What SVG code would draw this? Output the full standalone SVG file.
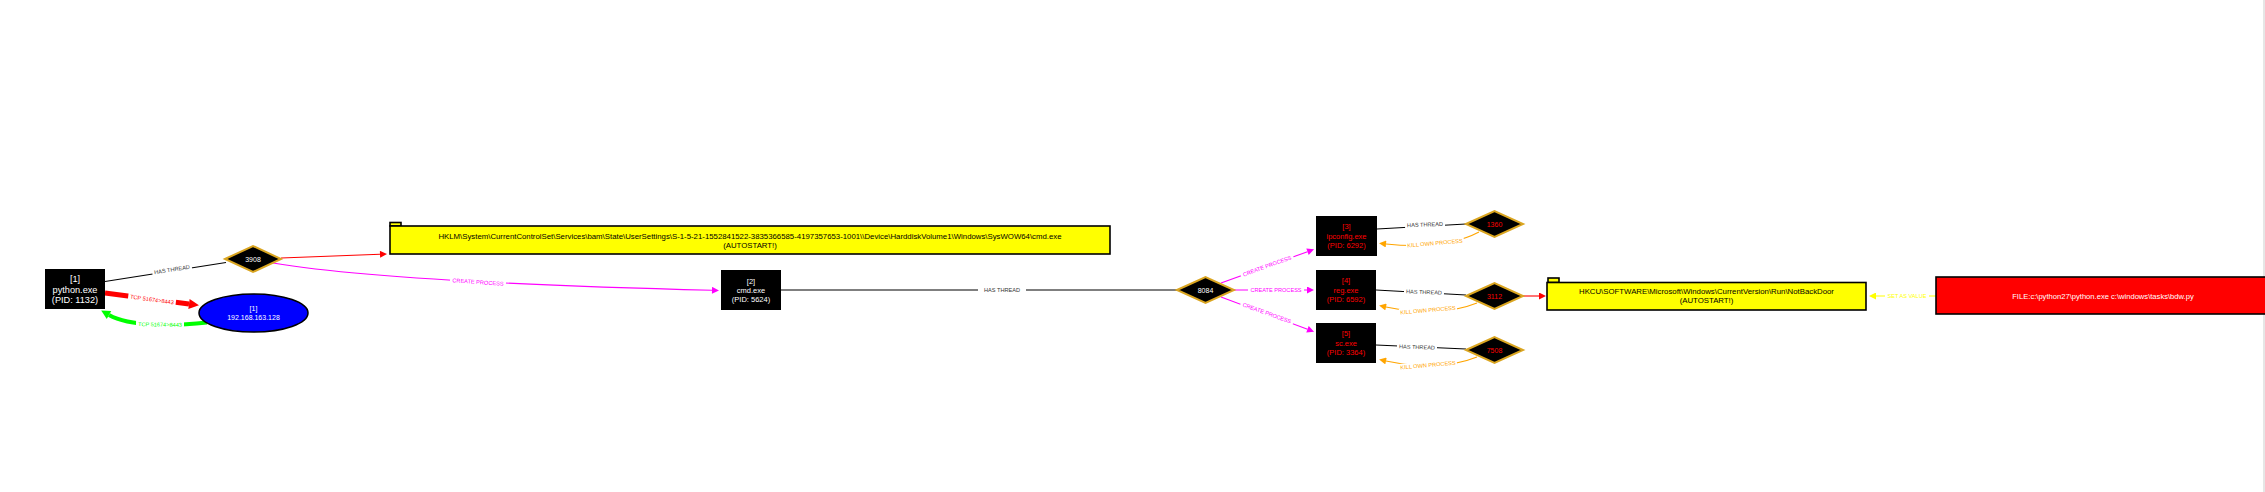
<svg xmlns="http://www.w3.org/2000/svg" width="2265" height="492" viewBox="0 0 2265 492">
<style>
text{font-family:"Liberation Sans",Arial,sans-serif;text-anchor:middle}
.proc{fill:#000}
.wt{fill:#fff;font-size:7.5px}
.rt{fill:#ff0000;font-size:7.5px}
.dia{fill:#000;stroke:#daa520;stroke-width:2}
.dt{fill:#fff;font-size:7px}
.drt{fill:#ff0000;font-size:7px}
.reg{fill:#ffff00;stroke:#000;stroke-width:1.6}
.regt{fill:#000;font-size:7.8px}
.el{font-size:5.6px}
.lb{fill:#fff}
.thr{fill:none;stroke:#000;stroke-width:1.1}
.cp{fill:none;stroke:#ff00ff;stroke-width:1.1}
.ko{fill:none;stroke:#ffa500;stroke-width:1.1}
.rd{fill:none;stroke:#ff0000;stroke-width:1.1}
</style>
<defs>
<marker id="aR" viewBox="0 0 10 10" refX="0" refY="5" markerUnits="userSpaceOnUse" markerWidth="8" markerHeight="7" orient="auto"><path d="M0,0L10,5L0,10z" fill="#ff0000"/></marker>
<marker id="aRb" viewBox="0 0 10 10" refX="0" refY="5" markerUnits="userSpaceOnUse" markerWidth="11" markerHeight="10" orient="auto"><path d="M0,0L10,5L0,10z" fill="#ff0000"/></marker>
<marker id="aG" viewBox="0 0 10 10" refX="0" refY="5" markerUnits="userSpaceOnUse" markerWidth="10" markerHeight="9" orient="auto"><path d="M0,0L10,5L0,10z" fill="#00ff00"/></marker>
<marker id="aM" viewBox="0 0 10 10" refX="0" refY="5" markerUnits="userSpaceOnUse" markerWidth="8" markerHeight="7" orient="auto"><path d="M0,0L10,5L0,10z" fill="#ff00ff"/></marker>
<marker id="aO" viewBox="0 0 10 10" refX="0" refY="5" markerUnits="userSpaceOnUse" markerWidth="8" markerHeight="7" orient="auto"><path d="M0,0L10,5L0,10z" fill="#ffa500"/></marker>
<marker id="aY" viewBox="0 0 10 10" refX="0" refY="5" markerUnits="userSpaceOnUse" markerWidth="8" markerHeight="7" orient="auto"><path d="M0,0L10,5L0,10z" fill="#ffff00"/></marker>
</defs>
<rect width="2265" height="492" fill="#fff"/>
<rect x="2263" y="0" width="2" height="492" fill="#e6e6e6"/>

<g id="connectors">
<path class="thr" d="M105,281.5 L226,262.5"/>
<path d="M105,293 L189,304" fill="none" stroke="#ff0000" stroke-width="5" marker-end="url(#aRb)"/>
<path d="M207,322.5 C175,326 130,327 109,315" fill="none" stroke="#00ff00" stroke-width="4" marker-end="url(#aG)"/>
<path class="rd" d="M281,258 L380,254.3" marker-end="url(#aR)"/>
<path class="cp" d="M273,263 C350,276 500,285 712,290.3" marker-end="url(#aM)"/>
<path class="thr" d="M781,290 L1177,290"/>
<path class="cp" d="M1221,283 L1307.5,251.7" marker-end="url(#aM)"/>
<path class="cp" d="M1234,290 L1307,290" marker-end="url(#aM)"/>
<path class="cp" d="M1221,297 L1307.5,329.2" marker-end="url(#aM)"/>
<path class="thr" d="M1377,229 L1466,224"/>
<path class="thr" d="M1376,290 L1466,295"/>
<path class="thr" d="M1376,345 L1466,349"/>
<path class="ko" d="M1479,232 Q1445,250 1386,244" marker-end="url(#aO)"/>
<path class="ko" d="M1477,303 Q1440,318 1386,307" marker-end="url(#aO)"/>
<path class="ko" d="M1477,357 Q1440,372 1386,361" marker-end="url(#aO)"/>
<path class="rd" d="M1523,296 L1539,296" marker-end="url(#aR)"/>
<path d="M1936,296 L1876,296" fill="none" stroke="#ffff00" stroke-width="1.1" marker-end="url(#aY)"/>

<g transform="translate(172,269.5) rotate(-9)"><rect class="lb" x="-20" y="-3.5" width="40" height="7"/><text class="el" y="2" fill="#333">HAS THREAD</text></g>
<g transform="translate(152,299.5) rotate(7.5)"><rect class="lb" x="-24" y="-4" width="48" height="8"/><text class="el" y="2" fill="#ff0000">TCP 51674&gt;8443</text></g>
<g transform="translate(160,324.5) rotate(1)"><rect class="lb" x="-24" y="-4" width="48" height="8"/><text class="el" y="2" fill="#00ff00">TCP 51674&gt;8443</text></g>
<g transform="translate(478,282) rotate(4)"><rect class="lb" x="-28" y="-3.5" width="56" height="7"/><text class="el" y="2" fill="#ff00ff">CREATE PROCESS</text></g>
<g transform="translate(1002,290)"><rect class="lb" x="-24" y="-3.5" width="48" height="7"/><text class="el" y="2" fill="#333">HAS THREAD</text></g>
<g transform="translate(1267,266) rotate(-20)"><rect class="lb" x="-28" y="-3.5" width="56" height="7"/><text class="el" y="2" fill="#ff00ff">CREATE PROCESS</text></g>
<g transform="translate(1276,290)"><rect class="lb" x="-28" y="-3.5" width="56" height="7"/><text class="el" y="2" fill="#ff00ff">CREATE PROCESS</text></g>
<g transform="translate(1267,313) rotate(20)"><rect class="lb" x="-28" y="-3.5" width="56" height="7"/><text class="el" y="2" fill="#ff00ff">CREATE PROCESS</text></g>
<g transform="translate(1425,224.5) rotate(-2)"><rect class="lb" x="-20" y="-3.5" width="40" height="7"/><text class="el" y="2" fill="#333">HAS THREAD</text></g>
<g transform="translate(1424,292) rotate(2)"><rect class="lb" x="-20" y="-3.5" width="40" height="7"/><text class="el" y="2" fill="#333">HAS THREAD</text></g>
<g transform="translate(1417,347) rotate(2)"><rect class="lb" x="-20" y="-3.5" width="40" height="7"/><text class="el" y="2" fill="#333">HAS THREAD</text></g>
<g transform="translate(1435,243) rotate(-5)"><rect class="lb" x="-29" y="-3.5" width="58" height="7"/><text class="el" y="2" fill="#ffa500">KILL OWN PROCESS</text></g>
<g transform="translate(1428,310) rotate(-5)"><rect class="lb" x="-29" y="-3.5" width="58" height="7"/><text class="el" y="2" fill="#ffa500">KILL OWN PROCESS</text></g>
<g transform="translate(1428,365) rotate(-5)"><rect class="lb" x="-29" y="-3.5" width="58" height="7"/><text class="el" y="2" fill="#ffa500">KILL OWN PROCESS</text></g>
<g transform="translate(1907,296)"><rect class="lb" x="-22" y="-3.5" width="44" height="7"/><text class="el" y="2" fill="#ffff00">SET AS VALUE</text></g>
</g>

<g id="n-python">
<rect class="proc" x="45" y="269" width="60" height="40"/>
<text fill="#fff" font-size="9.2" x="75" y="282">[1]</text>
<text fill="#fff" font-size="9.2" x="75" y="292.8">python.exe</text>
<text fill="#fff" font-size="9.2" x="75" y="303.3">(PID: 1132)</text>
</g>
<g id="n-ip">
<ellipse cx="253.5" cy="313" rx="54.5" ry="19" fill="#0000ff" stroke="#000" stroke-width="1.5"/>
<text fill="#fff" font-size="7" x="253.5" y="310.5">[1]</text>
<text fill="#fff" font-size="7" x="253.5" y="319.5">192.168.163.128</text>
</g>
<g id="n-3908">
<polygon class="dia" points="225,259 253,246 281,259 253,272"/>
<text class="dt" x="253" y="261.5">3908</text>
</g>
<g id="n-reg1">
<rect class="reg" x="390" y="222.5" width="11" height="3.5"/>
<rect class="reg" x="390" y="226" width="720" height="28"/>
<text class="regt" x="750" y="238.7">HKLM\System\CurrentControlSet\Services\bam\State\UserSettings\S-1-5-21-1552841522-3835366585-4197357653-1001\\Device\HarddiskVolume1\Windows\SysWOW64\cmd.exe</text>
<text class="regt" x="750" y="247.7">(AUTOSTART!)</text>
</g>
<g id="n-cmd">
<rect class="proc" x="721" y="270" width="60" height="40"/>
<text class="wt" x="751" y="283.6">[2]</text>
<text class="wt" x="751" y="292.6">cmd.exe</text>
<text class="wt" x="751" y="301.6">(PID: 5624)</text>
</g>
<g id="n-8084">
<polygon class="dia" points="1177,290 1205.5,277 1234,290 1205.5,303"/>
<text class="dt" x="1205.5" y="292.5">8084</text>
</g>
<g id="n-ipconfig">
<rect class="proc" x="1316" y="216" width="61" height="40"/>
<text class="rt" x="1346.5" y="229">[3]</text>
<text class="rt" x="1346.5" y="238.6">ipconfig.exe</text>
<text class="rt" x="1346.5" y="247.6">(PID: 6292)</text>
</g>
<g id="n-reg">
<rect class="proc" x="1316" y="270" width="60" height="40"/>
<text class="rt" x="1346" y="282.6">[4]</text>
<text class="rt" x="1346" y="292.6">reg.exe</text>
<text class="rt" x="1346" y="301.9">(PID: 6592)</text>
</g>
<g id="n-sc">
<rect class="proc" x="1316" y="323" width="60" height="40"/>
<text class="rt" x="1346" y="335.9">[5]</text>
<text class="rt" x="1346" y="345.9">sc.exe</text>
<text class="rt" x="1346" y="354.9">(PID: 3364)</text>
</g>
<g id="n-1360">
<polygon class="dia" points="1466,224 1494.5,211 1523,224 1494.5,237"/>
<text class="drt" x="1494.5" y="226.5">1360</text>
</g>
<g id="n-3112">
<polygon class="dia" points="1466,296 1494.5,283 1523,296 1494.5,309"/>
<text class="drt" x="1494.5" y="298.5">3112</text>
</g>
<g id="n-7508">
<polygon class="dia" points="1466,350 1494.5,337 1523,350 1494.5,363"/>
<text class="drt" x="1494.5" y="352.5">7508</text>
</g>
<g id="n-reg2">
<rect class="reg" x="1548" y="278" width="11" height="4.5"/>
<rect class="reg" x="1547" y="282.5" width="319" height="27.5"/>
<text class="regt" x="1706.5" y="294.4">HKCU\SOFTWARE\Microsoft\Windows\CurrentVersion\Run\NotBackDoor</text>
<text class="regt" x="1706.5" y="303.4">(AUTOSTART!)</text>
</g>
<g id="n-file">
<rect x="1936" y="277" width="330" height="37" fill="#ff0000" stroke="#000" stroke-width="1.6"/>
<text fill="#fff" font-size="7.6" x="2103" y="298.6">FILE:c:\python27\python.exe  c:\windows\tasks\bdw.py</text>
</g>
</svg>
